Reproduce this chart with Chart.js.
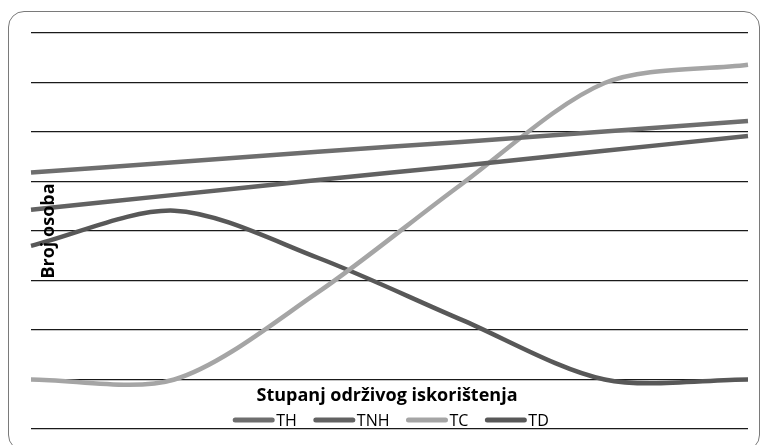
<!DOCTYPE html>
<html>
<head>
<meta charset="utf-8">
<script src="https://cdn.jsdelivr.net/npm/chart.js@4.4.1/dist/chart.umd.min.js"></script>
<style>
  body { margin: 0; background: #fff; }
  #wrap { position: relative; width: 761px; height: 445px; }
  #frame {
    position: absolute; left: 8px; top: 11px; width: 752px; height: 440px;
    border: 1.5px solid #7a7a7a; border-radius: 16px; box-sizing: border-box;
    pointer-events: none;
  }
  canvas { position: absolute; left: 0; top: 0; }
</style>
</head>
<body>
<div id="wrap">
  <canvas id="chart" width="761" height="445"></canvas>
  <div id="frame"></div>
</div>
<script>
// categories (no labels shown on the axis)
const categories = ["1", "2", "3", "4", "5", "6"];

// series values
const thValues = [4.18, 4.39, 4.6, 4.8, 5.01, 5.22];
const tnhValues = [3.43, 3.73, 4.03, 4.32, 4.62, 4.92];
const tcValues = [0, 0, 1.76, 3.94, 5.99, 6.36];
const tdValues = [2.7, 3.41, 2.46, 1.21, 0, 0];

const seriesNames = ["TH", "TNH", "TC", "TD"];
const seriesColors = ["#6e6e6e", "#626262", "#a5a5a5", "#585858"];

const xTitle = "Stupanj održivog iskorištenja";
const yTitle = "Broj osoba";

const fontFamily = "'Open Sans', 'Noto Sans', sans-serif";

// titles and legend sit inside the plot area, so draw them on top
const overlayPlugin = {
  id: "overlay",
  afterDraw(chart) {
    const ctx = chart.ctx;
    ctx.save();

    // y axis title
    ctx.fillStyle = "#000";
    ctx.font = "bold 18px " + fontFamily;
    ctx.textAlign = "center";
    ctx.textBaseline = "middle";
    ctx.translate(49, 231);
    ctx.rotate(-Math.PI / 2);
    ctx.fillText(yTitle, 0, 0);
    ctx.setTransform(1, 0, 0, 1, 0, 0);

    // x axis title
    ctx.font = "bold 18px " + fontFamily;
    ctx.fillText(xTitle, 387, 396);

    // legend
    ctx.font = "16px " + fontFamily;
    const lineLen = 41;
    const gapText = 2;
    const gapItem = 17;
    let total = 0;
    const widths = seriesNames.map((n) => ctx.measureText(n).width);
    widths.forEach((w, i) => {
      total += lineLen + gapText + w + (i < widths.length - 1 ? gapItem : 0);
    });
    let x = 391 - total / 2;
    const y = 420;
    ctx.textAlign = "left";
    chart.data.datasets.forEach((ds, i) => {
      ctx.strokeStyle = ds.borderColor;
      ctx.lineWidth = 5;
      ctx.lineCap = "round";
      ctx.beginPath();
      ctx.moveTo(x + 2, y);
      ctx.lineTo(x + lineLen - 2, y);
      ctx.stroke();
      x += lineLen + gapText;
      ctx.fillStyle = "#000";
      ctx.fillText(ds.label, x, y + 1);
      x += widths[i] + gapItem;
    });
    ctx.restore();
  },
};

const allValues = [thValues, tnhValues, tcValues, tdValues];

new Chart(document.getElementById("chart"), {
  type: "line",
  data: {
    labels: categories,
    datasets: allValues.map((vals, i) => ({
      label: seriesNames[i],
      data: vals,
      borderColor: seriesColors[i],
      backgroundColor: seriesColors[i],
      borderWidth: 4.5,
      pointRadius: 0,
      tension: 0.3,
      fill: false,
    })),
  },
  options: {
    responsive: false,
    animation: false,
    layout: { padding: { left: 31, right: 13, top: 33, bottom: 16 } },
    plugins: {
      legend: { display: false },
      tooltip: { enabled: false },
    },
    scales: {
      x: {
        display: false,
        offset: false,
      },
      y: {
        min: -1,
        max: 7,
        ticks: { display: false, stepSize: 1 },
        grid: { color: "#1a1a1a", lineWidth: 1.3, drawTicks: false },
        border: { display: false },
      },
    },
  },
  plugins: [overlayPlugin],
});
</script>
</body>
</html>
